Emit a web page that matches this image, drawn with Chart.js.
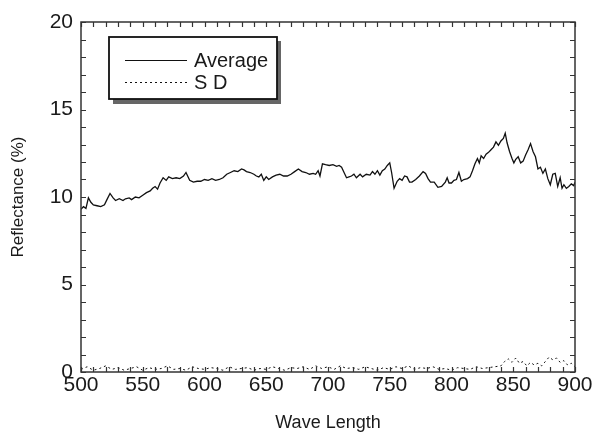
<!DOCTYPE html>
<html>
<head>
<meta charset="utf-8">
<script src="https://cdn.jsdelivr.net/npm/chart.js@4.4.1/dist/chart.umd.min.js"></script>
<style>
html,body{margin:0;padding:0;background:#fff;}
#wrap{width:597px;height:432px;position:relative;}
</style>
</head>
<body>
<div id="wrap"><canvas id="c" width="597" height="432"></canvas></div>
<script>
// Wavelength (nm) and average reflectance (%)
const avgWave = [500,502,504,506,508,510,513,516,519,521,523.5,526,528,531,534,536,539,541,544,547,550,553,556,558,560,562,564,566.5,569,571,574,577,580,583,585,588,591,594,597,600,603,606,609,612,615,618,621,624,627,630,632,634,637,640,642,644,646,648,650,652,655,658,661,664,667,670,673,676,679,682,685,688,690,692,693.5,695.5,698,701,704,707,709,711,713,715,717,719,721,723,726,728,731,734,736,738,740,742,744,746,748,750,751.5,753.5,756,758,760,762,764,766,768,771,774,777,779,781,783,786,789,792,795,796.5,798,800,802,804,806,808,810,813,815,817,819,821,822.5,824,826,828,830,832,834,836,838,840,842,843.5,845,847,849,850.5,852,854,856,858,860,862,864,866,868,870,872,874,876,878,880,882,884,886,888,889.5,891,893,895,897,899,900];
const avgValues = [9.3,9.45,9.35,9.95,9.7,9.55,9.5,9.45,9.55,9.85,10.2,9.95,9.8,9.9,9.8,9.9,9.95,9.85,10.0,9.95,10.1,10.25,10.35,10.5,10.6,10.45,10.8,11.1,10.95,11.15,11.05,11.1,11.05,11.2,11.4,10.95,10.85,10.9,10.9,11.0,10.95,11.05,10.95,11.0,11.1,11.3,11.4,11.5,11.45,11.6,11.55,11.45,11.4,11.3,11.2,11.15,11.3,10.95,11.15,11.0,11.15,11.25,11.3,11.2,11.2,11.3,11.45,11.6,11.45,11.4,11.3,11.35,11.3,11.5,11.2,11.9,11.85,11.8,11.85,11.75,11.8,11.7,11.4,11.1,11.15,11.2,11.3,11.1,11.3,11.15,11.3,11.25,11.45,11.3,11.5,11.25,11.5,11.6,11.8,11.95,11.4,10.5,10.9,11.05,10.95,11.2,11.15,10.85,10.85,11.0,11.2,11.45,11.35,11.05,10.85,10.85,10.55,10.6,10.85,11.1,10.8,10.8,10.95,11.0,11.4,10.9,11.0,11.05,11.15,11.5,11.9,12.2,11.95,12.35,12.2,12.45,12.55,12.7,12.85,13.15,12.95,13.2,13.35,13.65,13.1,12.6,12.2,11.95,12.15,12.3,11.95,12.05,12.4,12.7,13.05,12.6,12.3,11.6,11.7,11.35,11.6,11.05,10.7,11.3,11.35,10.6,11.1,10.5,10.7,10.5,10.6,10.75,10.65,10.85];

// Wavelength (nm) and standard deviation (%)
const sdWave = [500,505,510,515,520,525,530,535,540,545,550,555,560,565,570,575,580,585,590,595,600,605,610,615,620,625,630,635,640,645,650,655,660,665,670,675,680,685,690,695,700,705,710,715,720,725,730,735,740,745,750,755,760,765,770,775,780,785,790,795,800,805,810,815,820,825,830,835,840,843,846,849,852,855,858,861,864,867,870,873,876,879,882,885,888,891,894,897,900];
const sdValues = [0.15,0.3,0.1,0.2,0.35,0.15,0.25,0.1,0.2,0.3,0.1,0.25,0.15,0.2,0.35,0.15,0.2,0.1,0.3,0.2,0.15,0.25,0.2,0.1,0.3,0.15,0.2,0.25,0.1,0.2,0.15,0.3,0.2,0.1,0.25,0.2,0.3,0.15,0.35,0.2,0.3,0.15,0.35,0.2,0.25,0.15,0.3,0.2,0.1,0.25,0.15,0.3,0.2,0.35,0.15,0.25,0.2,0.3,0.15,0.2,0.1,0.25,0.2,0.15,0.3,0.2,0.25,0.3,0.35,0.6,0.75,0.55,0.8,0.5,0.6,0.35,0.55,0.4,0.5,0.35,0.6,0.85,0.7,0.8,0.55,0.65,0.4,0.5,0.3];

const seriesLabels = ["Average", "S D"];
const xTickLabels = ["500","550","600","650","700","750","800","850","900"];
const yTickLabels = ["0","5","10","15","20"];

const FONT = "'Liberation Sans', Arial, Helvetica, sans-serif";
const INK = '#1a1a1a';

const framePlugin = {
  id: 'frame',
  afterDraw(chart) {
    const {ctx, chartArea: a, scales} = chart;
    const xs = scales.x, ys = scales.y;
    ctx.save();
    ctx.strokeStyle = '#333';
    ctx.lineWidth = 1.5;
    ctx.strokeRect(a.left, a.top, a.right - a.left, a.bottom - a.top);
    ctx.lineWidth = 1.2;
    ctx.beginPath();
    for (let v = 500; v <= 900; v += 10) {
      const px = Math.round(xs.getPixelForValue(v)) + 0.5;
      ctx.moveTo(px, a.top); ctx.lineTo(px, a.top + 5);
      ctx.moveTo(px, a.bottom); ctx.lineTo(px, a.bottom - 5);
    }
    for (let v = 0; v <= 20; v += 1) {
      const py = Math.round(ys.getPixelForValue(v)) + 0.5;
      ctx.moveTo(a.left, py); ctx.lineTo(a.left + 5, py);
      ctx.moveTo(a.right, py); ctx.lineTo(a.right - 5, py);
    }
    ctx.stroke();

    // legend box
    const bx = 109, by = 37, bw = 168, bh = 62;
    ctx.fillStyle = '#666';
    ctx.fillRect(bx + 4, by + 4, bw, bh + 1);
    ctx.fillStyle = '#fff';
    ctx.fillRect(bx, by, bw, bh);
    ctx.strokeStyle = '#111';
    ctx.lineWidth = 1.8;
    ctx.strokeRect(bx, by, bw, bh);
    const ds = chart.data.datasets;
    const rows = [60, 82];
    ds.forEach((d, i) => {
      ctx.beginPath();
      ctx.strokeStyle = d.borderColor;
      ctx.lineWidth = 1;
      ctx.setLineDash(d.borderDash || []);
      ctx.moveTo(125, rows[i] + 0.5); ctx.lineTo(187, rows[i] + 0.5);
      ctx.stroke();
      ctx.setLineDash([]);
      ctx.fillStyle = INK;
      ctx.font = '20px ' + FONT;
      ctx.textBaseline = 'middle';
      ctx.textAlign = 'left';
      ctx.fillText(d.label, 194, rows[i] + 1);
    });
    ctx.restore();
  }
};

new Chart(document.getElementById('c'), {
  type: 'line',
  data: {
    datasets: [
      {
        label: seriesLabels[0],
        data: avgWave.map((w, i) => ({x: w, y: avgValues[i]})),
        borderColor: '#111',
        borderWidth: 1.3,
        pointRadius: 0,
        tension: 0,
        fill: false
      },
      {
        label: seriesLabels[1],
        data: sdWave.map((w, i) => ({x: w, y: sdValues[i]})),
        borderColor: '#111',
        borderWidth: 1,
        borderDash: [2, 3],
        pointRadius: 0,
        tension: 0,
        fill: false
      }
    ]
  },
  options: {
    responsive: false,
    animation: false,
    layout: {padding: {top: 22, right: 22, left: 0, bottom: 0}},
    plugins: {legend: {display: false}, tooltip: {enabled: false}},
    scales: {
      x: {
        type: 'linear', min: 500, max: 900,
        afterFit(s) { s.height = 60; },
        grid: {display: false, drawTicks: false},
        border: {display: false},
        ticks: {
          stepSize: 50, padding: 1, color: INK,
          font: {family: FONT, size: 21},
          callback: (v) => xTickLabels[xTickLabels.indexOf(String(v))] ?? ''
        },
        title: {display: true, text: 'Wave Length', color: INK, font: {family: FONT, size: 18, lineHeight: 1.0}, padding: {top: 4, bottom: 0}}
      },
      y: {
        min: 0, max: 20,
        afterFit(s) { s.width = 81; },
        grid: {display: false, drawTicks: false},
        border: {display: false},
        ticks: {
          stepSize: 5, padding: 8, color: INK,
          font: {family: FONT, size: 21},
          callback: (v) => yTickLabels[yTickLabels.indexOf(String(v))] ?? ''
        },
        title: {display: true, text: 'Reflectance (%)', color: INK, font: {family: FONT, size: 17}, padding: {top: 8, bottom: 4}}
      }
    }
  },
  plugins: [framePlugin]
});
</script>
</body>
</html>
